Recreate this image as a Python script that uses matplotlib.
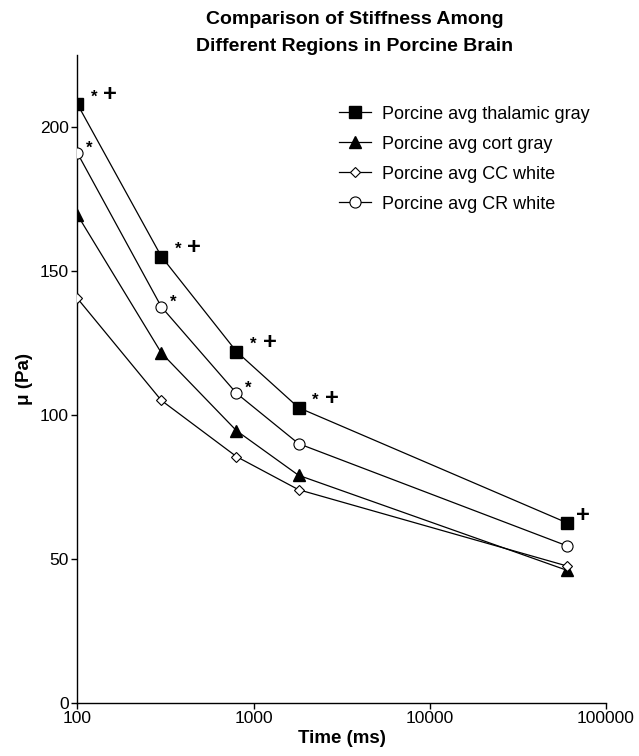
import matplotlib
matplotlib.use('Agg')
import matplotlib.pyplot as plt
from matplotlib.ticker import FixedLocator, NullLocator, FixedFormatter

plt.rcParams.update({
    'font.family': ['Liberation Sans', 'DejaVu Sans'],
    'font.size': 12,
})

# ── Datos ──────────────────────────────────────────────────────────
time_ms   = [100, 300, 800, 1800, 60000]
thalamic  = [208, 155, 122, 102.5, 62.5]
cort_gray = [169.5, 121.5, 94.5, 79, 46]
cc_white  = [140.5, 105, 85.5, 74, 47.5]
cr_white  = [191, 137.5, 107.5, 90, 54.5]

labels = ['Porcine avg thalamic gray', 'Porcine avg cort gray',
          'Porcine avg CC white', 'Porcine avg CR white']

x_ticks = [100, 1000, 10000, 100000]
y_ticks = [0, 50, 100, 150, 200]

# marcas de significancia por punto
thal_marks = ['* +', '* +', '* +', '* +', '+']
cr_marks   = ['*', '*', '*', '', '']

W, H = 639, 756
fig = plt.figure(figsize=(W / 100, H / 100), dpi=100, facecolor='white')
ax = fig.add_axes([77.3 / W, (H - 702.7) / H, (606 - 77.3) / W, (702.7 - 55) / H])

lw = 0.9
ax.plot(time_ms, thalamic, color='black', lw=lw, marker='s', ms=8,
        mfc='black', mec='black', label=labels[0], zorder=3)
ax.plot(time_ms, cort_gray, color='black', lw=lw, marker='^', ms=8.5,
        mfc='black', mec='black', label=labels[1], zorder=3)
ax.plot(time_ms, cc_white, color='black', lw=lw, marker='D', ms=5.5,
        mfc='white', mec='black', mew=0.8, label=labels[2], zorder=3)
ax.plot(time_ms, cr_white, color='black', lw=lw, marker='o', ms=8,
        mfc='white', mec='black', mew=0.8, label=labels[3], zorder=3)

# anotaciones * y +
for t, v, m in zip(time_ms, thalamic, thal_marks):
    if m == '* +':
        ax.annotate('*', (t, v), xytext=(17, 7), textcoords='offset pixels',
                    ha='center', va='center', fontsize=12, fontweight='bold')
        ax.annotate('+', (t, v), xytext=(33, 9), textcoords='offset pixels',
                    ha='center', va='center', fontsize=17, fontweight='bold')
    elif m == '+':
        ax.annotate('+', (t, v), xytext=(16, 7), textcoords='offset pixels',
                    ha='center', va='center', fontsize=17, fontweight='bold')
for t, v, m in zip(time_ms, cr_white, cr_marks):
    if m:
        ax.annotate(m, (t, v), xytext=(12, 5), textcoords='offset pixels',
                    ha='center', va='center', fontsize=12, fontweight='bold')

ax.set_xscale('log')
ax.set_xlim(100, 100000)
ax.set_ylim(0, 225)
ax.xaxis.set_major_locator(FixedLocator(x_ticks))
ax.xaxis.set_major_formatter(FixedFormatter([str(v) for v in x_ticks]))
ax.xaxis.set_minor_locator(NullLocator())
ax.set_yticks(y_ticks)

for s in ['top', 'right']:
    ax.spines[s].set_visible(False)
for s in ['left', 'bottom']:
    ax.spines[s].set_linewidth(1.0)
ax.tick_params(direction='out', length=4, width=1.0, labelsize=12.5, pad=2)

ax.set_xlabel('Time (ms)', fontsize=13.5, fontweight='bold', labelpad=3)
ax.set_ylabel('μ (Pa)', fontsize=13.5, fontweight='bold', labelpad=5)
ax.set_title('Comparison of Stiffness Among\nDifferent Regions in Porcine Brain',
             fontsize=14, fontweight='bold', pad=3, linespacing=1.75, x=0.525)

ax.legend(loc='upper left', bbox_to_anchor=(0.482, 0.933), frameon=False,
          handlelength=1.75, handletextpad=0.6, labelspacing=0.72,
          borderaxespad=0, fontsize=13)

fig.savefig('out.png', dpi=100, facecolor='white')
